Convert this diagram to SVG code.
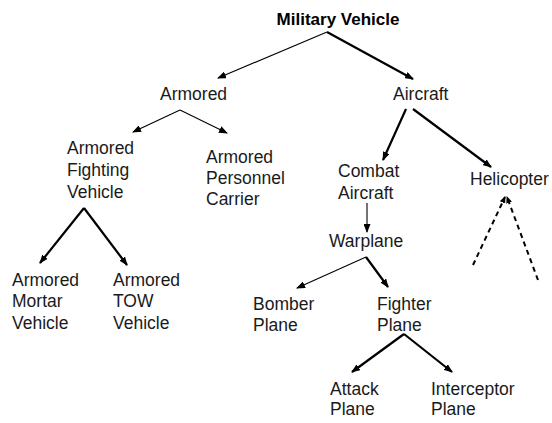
<svg xmlns="http://www.w3.org/2000/svg" width="552" height="423" viewBox="0 0 552 423">
<style>
text{font-family:"Liberation Sans",Arial,sans-serif;font-size:17.5px;fill:#1a1a1a}
.title{font-weight:bold;font-size:17px;fill:#000}
.thin{stroke:#000;stroke-width:1.1;fill:none}
.thick{stroke:#000;stroke-width:2.2;fill:none}
.dash{stroke:#000;stroke-width:2;fill:none;stroke-dasharray:5,4}
</style>
<defs>
<marker id="ah" markerUnits="userSpaceOnUse" markerWidth="9" markerHeight="7" refX="8" refY="3.5" orient="auto">
<path d="M0,0 L9,3.5 L0,7 z" fill="#000"/>
</marker>
<marker id="ahs" markerUnits="userSpaceOnUse" markerWidth="7" markerHeight="6" refX="6" refY="3" orient="auto">
<path d="M0,0 L7,3 L0,6 z" fill="#000"/>
</marker>
</defs>
<g id="connectors">
<line class="thin" x1="327" y1="32" x2="218" y2="78" marker-end="url(#ah)"/>
<line class="thick" x1="327" y1="32" x2="413" y2="79" marker-end="url(#ah)"/>
<line class="thin" x1="180" y1="110" x2="133" y2="132" marker-end="url(#ah)"/>
<line class="thin" x1="180" y1="110" x2="227" y2="133" marker-end="url(#ah)"/>
<line class="thick" x1="406" y1="109" x2="383" y2="160" marker-end="url(#ah)"/>
<line class="thick" x1="413" y1="109" x2="491" y2="167" marker-end="url(#ah)"/>
<line class="thick" x1="84" y1="208" x2="40" y2="263" marker-end="url(#ah)"/>
<line class="thick" x1="84" y1="208" x2="127" y2="265" marker-end="url(#ah)"/>
<line class="thin" x1="367" y1="203" x2="367" y2="232" marker-end="url(#ah)"/>
<line class="thin" x1="366" y1="257" x2="297" y2="288" marker-end="url(#ah)"/>
<line class="thick" x1="366" y1="257" x2="388" y2="287" marker-end="url(#ah)"/>
<line class="thick" x1="404" y1="334" x2="352" y2="372" marker-end="url(#ah)"/>
<line class="thick" x1="404" y1="334" x2="452" y2="372" marker-end="url(#ah)"/>
<line class="dash" x1="473" y1="265" x2="505" y2="197" marker-end="url(#ahs)"/>
<line class="dash" x1="538" y1="280" x2="507" y2="197" marker-end="url(#ahs)"/>
</g>
<g id="military-vehicle"><text class="title" x="338" y="25" text-anchor="middle">Military Vehicle</text></g>
<g id="armored"><text x="160" y="100">Armored</text></g>
<g id="aircraft"><text x="393" y="100">Aircraft</text></g>
<g id="armored-fighting-vehicle"><text x="67" y="154">Armored</text><text x="67" y="176">Fighting</text><text x="67" y="198">Vehicle</text></g>
<g id="armored-personnel-carrier"><text x="206" y="163">Armored</text><text x="206" y="184">Personnel</text><text x="206" y="205">Carrier</text></g>
<g id="combat-aircraft"><text x="338" y="177">Combat</text><text x="338" y="199">Aircraft</text></g>
<g id="helicopter"><text x="470" y="185">Helicopter</text></g>
<g id="armored-mortar-vehicle"><text x="12" y="286">Armored</text><text x="12" y="307">Mortar</text><text x="12" y="329">Vehicle</text></g>
<g id="armored-tow-vehicle"><text x="113" y="286">Armored</text><text x="113" y="307">TOW</text><text x="113" y="329">Vehicle</text></g>
<g id="warplane"><text x="329" y="247">Warplane</text></g>
<g id="bomber-plane"><text x="253" y="310">Bomber</text><text x="253" y="331">Plane</text></g>
<g id="fighter-plane"><text x="377" y="310">Fighter</text><text x="377" y="331">Plane</text></g>
<g id="attack-plane"><text x="330" y="395">Attack</text><text x="330" y="415">Plane</text></g>
<g id="interceptor-plane"><text x="431" y="395">Interceptor</text><text x="431" y="415">Plane</text></g>
</svg>
